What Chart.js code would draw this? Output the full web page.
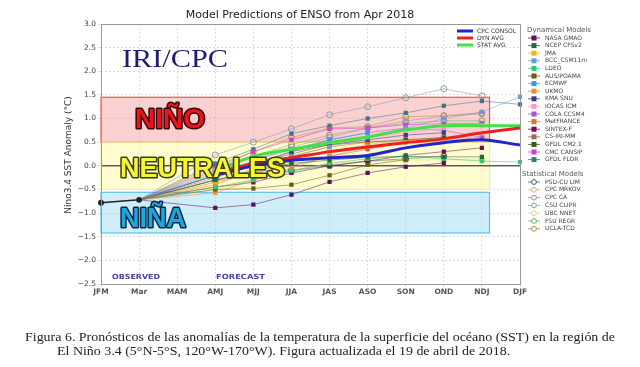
<!DOCTYPE html>
<html>
<head>
<meta charset="utf-8">
<script src="https://cdn.jsdelivr.net/npm/chart.js@4.4.0/dist/chart.umd.min.js"></script>
<style>
  html, body { margin: 0; padding: 0; background: #fff; }
  #wrap { width: 640px; height: 367px; position: relative; }
</style>
</head>
<body>
<div id="wrap"><canvas id="c" width="640" height="367"></canvas></div>
<script>
// seasons on the x axis
const months = ['JFM', 'Mar', 'MAM', 'AMJ', 'MJJ', 'JJA', 'JAS', 'ASO', 'SON', 'OND', 'NDJ', 'DJF'];

// observed anomaly (JFM, Mar)
const observed = [-0.78, -0.72];

// forecasts, AMJ .. DJF
const cpcConsol = [-0.2, 0.0, 0.12, 0.17, 0.22, 0.38, 0.49, 0.55, 0.44];
const dynAvg    = [-0.15, 0.05, 0.17, 0.3, 0.4, 0.49, 0.57, 0.7, 0.8];
const statAvg   = [-0.1, 0.2, 0.35, 0.49, 0.61, 0.76, 0.85, 0.85, 0.85];

// dynamical models
const nasaGmao   = [-0.89, -0.82, -0.61, -0.34, -0.15, -0.02, 0.06, null, null];
const ncepCfsv2  = [-0.3, -0.1, 0.05, 0.12, 0.18, 0.2, 0.19, 0.19, null];
const jma        = [-0.35, -0.05, 0.15, 0.3, 0.4, 0.5, null, null, null];
const bccCsm     = [-0.2, 0.0, 0.2, 0.4, 0.6, 0.8, 1.0, 1.14, 1.46];
const ldeo       = [-0.45, -0.3, -0.1, 0.05, 0.15, 0.2, 0.15, 0.1, 0.08];
const ausPoama   = [-0.5, -0.48, -0.4, -0.2, 0.02, 0.13, null, null, null];
const ecmwf      = [-0.15, 0.1, 0.35, 0.55, 0.7, null, null, null, null];
const ukmo       = [-0.57, -0.3, -0.05, 0.2, 0.4, null, null, null, null];
const kmaSnu     = [-0.2, 0.05, 0.3, 0.45, 0.55, 0.65, 0.7, null, null];
const iocasIcm   = [-0.1, 0.15, 0.35, 0.5, 0.6, 0.7, 0.8, 0.85, null];
const colaCcsm4  = [-0.25, 0.0, 0.3, 0.55, 0.7, 0.8, 0.75, 0.6, null];
const metFrance  = [-0.4, -0.1, 0.2, 0.4, 0.5, null, null, null, null];
const sintexF    = [-0.45, -0.35, -0.15, 0.0, 0.1, 0.22, 0.3, 0.38, null];
const csIriMm    = [-0.3, -0.15, 0.0, 0.2, 0.35, 0.5, null, null, null];
const gfdlCm21   = [-0.2, 0.05, 0.25, 0.45, 0.5, 0.55, 0.6, null, null];
const cmcCansip  = [-0.05, 0.3, 0.55, 0.78, 0.8, 0.87, 0.89, 0.9, null];
const gfdlFlor   = [0.05, 0.35, 0.68, 0.85, 1.0, 1.12, 1.27, 1.37, 1.3];

// statistical models
const psdCuLim   = [-0.3, -0.2, -0.1, 0.0, 0.1, 0.15, 0.2, null, null];
const cpcMrkov   = [-0.35, -0.15, 0.1, 0.3, 0.45, 0.55, 0.6, 0.6, null];
const cpcCa      = [-0.2, 0.1, 0.4, 0.6, 0.8, 0.95, 1.05, 1.1, null];
const csuClipr   = [0.23, 0.5, 0.78, 1.08, 1.25, 1.44, 1.63, 1.48, null];
const ubcNnet    = [-0.5, -0.3, -0.1, 0.05, 0.1, 0.12, 0.13, 0.13, null];
const fsuRegr    = [-0.1, 0.2, 0.45, 0.65, 0.8, 0.9, 0.95, 0.95, null];
const uclaTcd    = [0.0, 0.3, 0.6, 0.8, 0.83, 1.04, 1.06, 1.12, null];

const dynModels = [
  ['NASA GMAO', nasaGmao, '#5c1060'],
  ['NCEP CFSv2', ncepCfsv2, '#1d6b3a'],
  ['JMA', jma, '#f0b428'],
  ['BCC_CSM11m', bccCsm, '#6f9ad8'],
  ['LDEO', ldeo, '#2ecc71'],
  ['AUS/POAMA', ausPoama, '#6b5a12'],
  ['ECMWF', ecmwf, '#2a9df4'],
  ['UKMO', ukmo, '#f28c3c'],
  ['KMA SNU', kmaSnu, '#3b3b8f'],
  ['IOCAS ICM', iocasIcm, '#f29cc0'],
  ['COLA CCSM4', colaCcsm4, '#9b59d6'],
  ['MetFRANCE', metFrance, '#ee6f1e'],
  ['SINTEX-F', sintexF, '#7a0a4a'],
  ['CS-IRI-MM', csIriMm, '#9a6a5a'],
  ['GFDL CM2.1', gfdlCm21, '#2f5f0f'],
  ['CMC CANSIP', cmcCansip, '#d63ad6'],
  ['GFDL FLOR', gfdlFlor, '#3a7a86'],
];
const statModels = [
  ['PSD-CU LIM', psdCuLim, '#4a5a6a'],
  ['CPC MRKOV', cpcMrkov, '#e0a878'],
  ['CPC CA', cpcCa, '#b080b0'],
  ['CSU CLIPR', csuClipr, '#8a9aa8'],
  ['UBC NNET', ubcNnet, '#d8d880'],
  ['FSU REGR', fsuRegr, '#5fb35f'],
  ['UCLA-TCD', uclaTcd, '#a89040'],
];
const averages = [
  ['CPC CONSOL', cpcConsol, '#2424c8'],
  ['DYN AVG', dynAvg, '#ee2020'],
  ['STAT AVG', statAvg, '#44e044'],
];

// forecast series start from the last observed value (Mar) with a dashed link
const linked = vals => [null, observed[1], null, ...vals];
const plain = vals => [null, null, null, ...vals];

const datasets = [];
averages.forEach(([label, vals, color]) => {
  datasets.push({
    label, group: 'avg', data: plain(vals),
    borderColor: color, backgroundColor: color, borderWidth: 3,
    pointRadius: 0, tension: 0.3, spanGaps: false
  });
});
datasets.push({
  label: 'Observed', group: 'obs', data: observed,
  borderColor: '#222', backgroundColor: '#1a1a3a', borderWidth: 1.5,
  pointRadius: 2.2, pointStyle: 'circle'
});
function modelSet(label, vals, color, group) {
  const stat = group === 'stat';
  return {
    label, group, data: linked(vals),
    borderColor: color + 'aa',
    backgroundColor: stat ? 'rgba(255,255,255,0)' : color,
    pointBorderColor: color,
    borderWidth: 0.8,
    pointBorderWidth: stat ? 1 : 0,
    pointStyle: stat ? 'circle' : 'rect',
    pointRadius: c => (c.dataIndex < 3 ? 0 : 3),
    spanGaps: true,
    segment: { borderDash: c => (c.p0DataIndex === 1 ? [2, 2] : undefined) }
  };
}
dynModels.forEach(([l, v, c]) => datasets.push(modelSet(l, v, c, 'dyn')));
statModels.forEach(([l, v, c]) => datasets.push(modelSet(l, v, c, 'stat')));

function fitText(ctx, text, x, baseline, width, font, fill, stroke, lw) {
  ctx.save();
  ctx.font = font;
  const w = ctx.measureText(text).width;
  ctx.translate(x, baseline);
  ctx.scale(width / w, 1);
  ctx.textAlign = 'left';
  ctx.textBaseline = 'alphabetic';
  if (stroke) {
    ctx.lineJoin = 'round';
    ctx.lineWidth = lw;
    ctx.strokeStyle = stroke;
    ctx.strokeText(text, 0, 0);
  }
  ctx.fillStyle = fill;
  ctx.fillText(text, 0, 0);
  ctx.restore();
}

const decor = {
  id: 'decor',
  beforeDatasetsDraw(chart) {
    const { ctx, chartArea: a, scales: { x, y } } = chart;
    const xl = a.left, xr = x.getPixelForValue(10.2);
    const box = (lo, hi, fill, line) => {
      const t = y.getPixelForValue(hi), b = y.getPixelForValue(lo);
      ctx.fillStyle = fill;
      ctx.fillRect(xl, t, xr - xl, b - t);
      ctx.strokeStyle = line;
      ctx.lineWidth = 1.2;
      ctx.strokeRect(xl, t, xr - xl, b - t);
    };
    ctx.save();
    box(0.5, 1.45, 'rgba(245,150,150,0.45)', '#e05a5a');
    box(-0.5, 0.5, 'rgba(255,250,160,0.5)', '#f2eca0');
    box(-1.42, -0.56, 'rgba(150,215,245,0.45)', '#5cc2ea');
    const y0 = y.getPixelForValue(0);
    ctx.strokeStyle = '#111';
    ctx.lineWidth = 1;
    ctx.beginPath();
    ctx.moveTo(a.left, y0);
    ctx.lineTo(a.right, y0);
    ctx.stroke();
    ctx.restore();
  },
  afterDraw(chart) {
    const { ctx, chartArea: a } = chart;
    ctx.save();
    // frame
    ctx.strokeStyle = '#999';
    ctx.lineWidth = 1;
    ctx.strokeRect(a.left + 0.5, a.top + 0.5, a.right - a.left, a.bottom - a.top);

    // title
    ctx.fillStyle = '#222';
    ctx.font = '11px "DejaVu Sans"';
    ctx.textAlign = 'center';
    ctx.textBaseline = 'middle';
    ctx.fillText('Model Predictions of ENSO from Apr 2018', 300, 15);

    // y axis title
    ctx.save();
    ctx.translate(69, 155);
    ctx.rotate(-Math.PI / 2);
    ctx.font = '9px "DejaVu Sans"';
    ctx.fillStyle = '#333';
    ctx.fillText('Nino3.4 SST Anomaly (°C)', 0, 0);
    ctx.restore();

    // overlay labels
    fitText(ctx, 'IRI/CPC', 122, 67, 106, '26px "Liberation Serif"', '#1c1c70');
    fitText(ctx, 'NIÑO', 135, 128, 70, 'bold 28px "Liberation Sans"', '#e8151b', '#3a0808', 3);
    fitText(ctx, 'NEUTRALES', 120, 177, 165, 'bold 27px "Liberation Sans"', '#f6f535', '#3a3a0c', 3);
    fitText(ctx, 'NIÑA', 120, 227, 66, 'bold 27px "Liberation Sans"', '#1fa6df', '#0a2a40', 3);
    fitText(ctx, 'OBSERVED', 112, 279, 48, 'bold 7px "DejaVu Sans"', '#4545a5');
    fitText(ctx, 'FORECAST', 216, 279, 49, 'bold 7px "DejaVu Sans"', '#4545a5');

    // legend of the averages, inside the plot
    ctx.textAlign = 'left';
    ctx.textBaseline = 'middle';
    ctx.font = '6px "DejaVu Sans"';
    chart.data.datasets.filter(d => d.group === 'avg').forEach((d, i) => {
      const yy = 31 + i * 7;
      ctx.strokeStyle = d.borderColor;
      ctx.lineWidth = 3;
      ctx.beginPath();
      ctx.moveTo(457, yy);
      ctx.lineTo(473, yy);
      ctx.stroke();
      ctx.fillStyle = '#333';
      ctx.fillText(d.label, 477, yy);
    });

    // model legend, right of the plot
    ctx.font = '7px "DejaVu Sans"';
    ctx.fillStyle = '#555';
    ctx.fillText('Dynamical Models', 527, 30);
    ctx.fillText('Statistical Models', 522, 174);
    const entry = (d, yy) => {
      const c = d.pointBorderColor;
      ctx.strokeStyle = c;
      ctx.lineWidth = 0.8;
      ctx.beginPath();
      ctx.moveTo(528, yy);
      ctx.lineTo(540, yy);
      ctx.stroke();
      if (d.group === 'stat') {
        ctx.fillStyle = '#fff';
        ctx.beginPath();
        ctx.arc(534, yy, 2.4, 0, Math.PI * 2);
        ctx.fill();
        ctx.lineWidth = 1;
        ctx.stroke();
      } else {
        ctx.fillStyle = c;
        ctx.fillRect(531.5, yy - 2.5, 5, 5);
      }
      ctx.fillStyle = '#444';
      ctx.font = '6px "DejaVu Sans"';
      ctx.fillText(d.label, 545, yy);
    };
    chart.data.datasets.filter(d => d.group === 'dyn').forEach((d, i) => entry(d, 38 + i * 7.6));
    chart.data.datasets.filter(d => d.group === 'stat').forEach((d, i) => entry(d, 182 + i * 7.8));

    // caption
    ctx.fillStyle = '#222';
    ctx.font = '12px "Liberation Serif"';
    const l1 = 'Figura 6. Pronósticos de las anomalías de la temperatura de la superficie del océano (SST) en la región de';
    const l2 = 'El Niño 3.4 (5°N-5°S, 120°W-170°W). Figura actualizada el 19 de abril de 2018.';
    const sx = 590 / ctx.measureText(l1).width;
    ctx.textAlign = 'left';
    ctx.save();
    ctx.translate(25, 338);
    ctx.scale(sx, 1);
    ctx.fillText(l1, 0, 0);
    ctx.restore();
    ctx.save();
    ctx.translate(57, 352);
    ctx.scale(sx, 1);
    ctx.fillText(l2, 0, 0);
    ctx.restore();
    ctx.restore();
  }
};

new Chart(document.getElementById('c'), {
  type: 'line',
  data: { labels: months, datasets },
  options: {
    responsive: false,
    animation: false,
    layout: { padding: { top: 24, right: 120, left: 0, bottom: 0 } },
    plugins: { legend: { display: false }, title: { display: false }, tooltip: { enabled: false } },
    scales: {
      x: {
        offset: false,
        afterFit: s => { s.height = 83; },
        grid: { color: '#d4d4d4', lineWidth: 0.8, tickLength: 3, drawTicks: true },
        border: { display: false, dash: [2, 2] },
        ticks: { color: '#555', font: { family: 'DejaVu Sans', size: 7.5, weight: 'bold' }, padding: 1, maxRotation: 0, autoSkip: false }
      },
      y: {
        min: -2.5, max: 3.0,
        afterFit: s => { s.width = 101; },
        grid: { color: '#d4d4d4', lineWidth: 0.8, tickLength: 3 },
        border: { display: false, dash: [2, 2] },
        ticks: {
          stepSize: 0.5, color: '#444', padding: 2,
          font: { family: 'DejaVu Sans', size: 7.5 },
          callback: v => v.toFixed(1).replace('-', '\u2212')
        }
      }
    }
  },
  plugins: [decor]
});
</script>
</body>
</html>
